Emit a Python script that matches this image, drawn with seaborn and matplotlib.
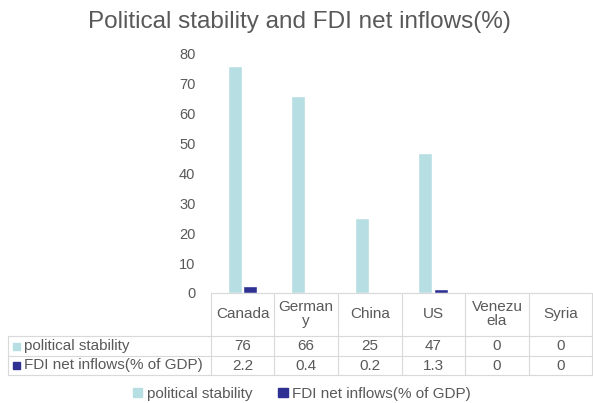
import textwrap
import seaborn as sns
import matplotlib.pyplot as plt
import pandas as pd
from matplotlib.lines import Line2D
from matplotlib.patches import Rectangle, Patch

# chart data
countries = ["Canada", "Germany", "China", "US", "Venezuela", "Syria"]
stability = [76, 66, 25, 47, 0, 0]
fdi = [2.2, 0.4, 0.2, 1.3, 0, 0]
series = ["political stability", "FDI net inflows(% of GDP)"]
colors = ["#B7DEE3", "#2E3192"]
y_ticks = [0, 10, 20, 30, 40, 50, 60, 70, 80]
title = "Political stability and FDI net inflows(%)"

W, H = 593, 403
grey = "#595959"
line_grey = "#D9D9D9"
fs = 11

sns.set_theme(style="white")
plt.rcParams['font.family'] = ['Liberation Sans', 'DejaVu Sans']

data = pd.DataFrame({
    "country": countries * 2,
    "series": [series[0]] * len(countries) + [series[1]] * len(countries),
    "value": stability + fdi,
})


def fx(x):
    return x / W


def fy(y):
    return 1 - y / H


fig = plt.figure(figsize=(W / 100, H / 100), dpi=100)
ax = fig.add_axes([fx(210.7), fy(293), (592.5 - 210.7) / W, (293 - 54) / H])
sns.barplot(data=data, x="country", y="value", hue="series", palette=colors,
            width=0.5, gap=0.12, saturation=1, legend=False, ax=ax)

ax.set_xlim(-0.5, len(countries) - 0.5)
ax.set_ylim(0, 80)
ax.set_yticks(y_ticks)
ax.set_yticklabels([str(t) for t in y_ticks], fontsize=10.5, color=grey)
ax.tick_params(axis="y", length=0, pad=11)
ax.set_xticks([])
ax.set_xlabel("")
ax.set_ylabel("")
for side in ["left", "right", "top"]:
    ax.spines[side].set_visible(False)
ax.spines["bottom"].set_color(line_grey)
ax.spines["bottom"].set_linewidth(0.8)

fig.text(fx(299), fy(22), title, ha="center", va="center", fontsize=17.5, color=grey)

# data table under the chart
fig.canvas.draw()
edges = [ax.transData.transform((i - 0.5, 0))[0] for i in range(len(countries) + 1)]
centers = [ax.transData.transform((i, 0))[0] for i in range(len(countries))]
row_lines = [336, 355.5, 375]
left = 8

for x in edges:
    fig.add_artist(Line2D([fx(x), fx(x)], [fy(293), fy(375)], color=line_grey, lw=0.8))
fig.add_artist(Line2D([fx(left), fx(left)], [fy(336), fy(375)], color=line_grey, lw=0.8))
for y in row_lines:
    fig.add_artist(Line2D([fx(left), fx(edges[-1])], [fy(y), fy(y)], color=line_grey, lw=0.8))

for c, name in zip(centers, countries):
    label = "\n".join(textwrap.wrap(name, 6, break_long_words=True))
    fig.text(fx(c), fy(314), label, ha="center", va="center", fontsize=fs,
             color=grey, linespacing=1.08)

rows = [stability, fdi]
row_mid = [346, 365.5]
for values, name, col, ym in zip(rows, series, colors, row_mid):
    fig.add_artist(Rectangle((fx(12.5), fy(ym + 3.5)), 7 / W, 7 / H, color=col,
                             transform=fig.transFigure))
    fig.text(fx(24), fy(ym), name, ha="left", va="center", fontsize=fs, color=grey)
    for c, v in zip(centers, values):
        fig.text(fx(c), fy(ym), f"{v:g}", ha="center", va="center", fontsize=fs, color=grey)

handles = [Patch(color=c) for c in colors]
fig.legend(handles, series, loc="center", bbox_to_anchor=(fx(302), fy(394)), ncol=2,
           frameon=False, fontsize=fs, labelcolor=grey, handlelength=0.6,
           handleheight=0.6, handletextpad=0.3, columnspacing=1.7)

fig.savefig("out.png", dpi=100)
